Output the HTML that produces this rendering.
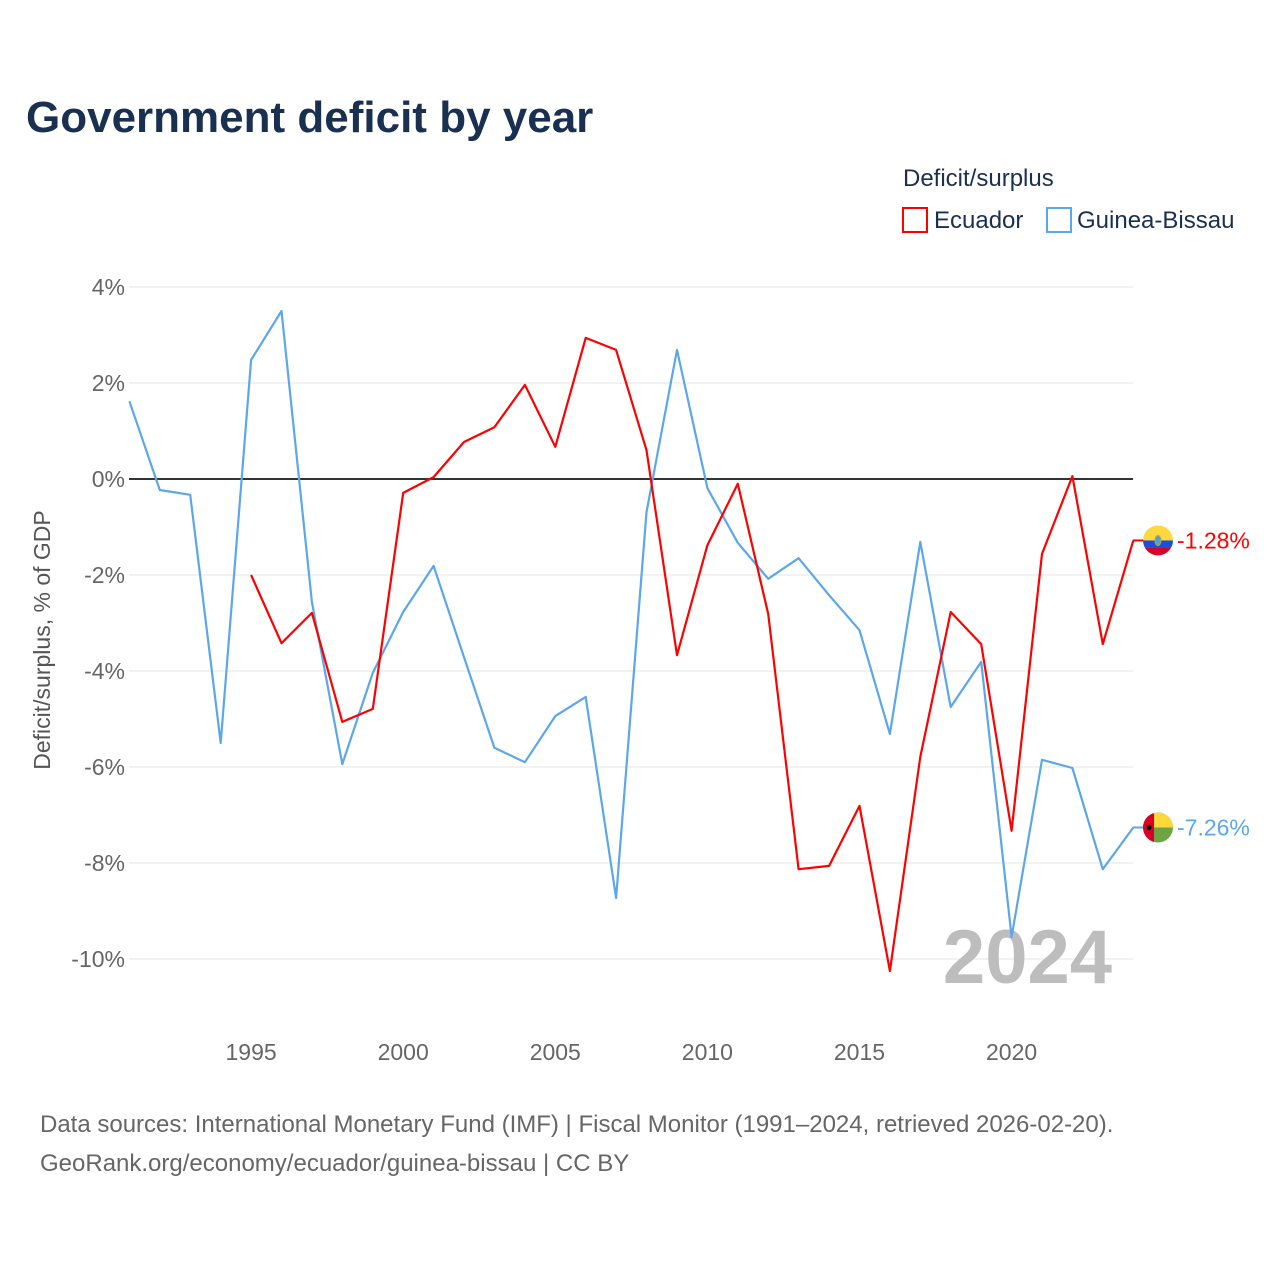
<!DOCTYPE html>
<html><head><meta charset="utf-8"><style>
body{margin:0;background:#fff;font-family:"Liberation Sans",sans-serif;}
svg text{font-family:"Liberation Sans",sans-serif;}
</style></head><body>
<svg id="chart" width="1280" height="1280" xmlns="http://www.w3.org/2000/svg">
<rect width="1280" height="1280" fill="#fff"/>
<text x="26" y="132" font-size="44" font-weight="bold" fill="#1a3050">Government deficit by year</text>
<text x="903" y="186" font-size="24" fill="#1a3050">Deficit/surplus</text>
<g><rect x="903" y="208" width="24" height="24" fill="none" stroke="#ff0000" stroke-width="2"/><text x="934" y="228" font-size="24" fill="#1a3050">Ecuador</text></g>
<g><rect x="1047" y="208" width="24" height="24" fill="none" stroke="#5ba7ea" stroke-width="2"/><text x="1077" y="228" font-size="24" fill="#1a3050">Guinea-Bissau</text></g>
<g id="grid"></g>
<text x="1112" y="983" font-size="76" font-weight="bold" fill="#bdbdbd" text-anchor="end">2024</text>
<g id="series"></g>
<text transform="translate(50,640) rotate(-90)" font-size="23" fill="#555" text-anchor="middle">Deficit/surplus, % of GDP</text>
<text x="40" y="1132" font-size="24" fill="#666">Data sources: International Monetary Fund (IMF) | Fiscal Monitor (1991–2024, retrieved 2026-02-20).</text>
<text x="40" y="1171" font-size="24" fill="#666">GeoRank.org/economy/ecuador/guinea-bissau | CC BY</text>
</svg>
<script>
const years=[];for(let y=1991;y<=2024;y++)years.push(y);
const guineaBissau=[1.62,-0.23,-0.33,-5.5,2.48,3.5,-2.56,-5.94,-4.04,-2.77,-1.81,-3.71,-5.6,-5.9,-4.94,-4.54,-8.73,-0.69,2.69,-0.19,-1.33,-2.08,-1.65,-2.42,-3.15,-5.31,-1.31,-4.75,-3.81,-9.54,-5.85,-6.02,-8.13,-7.26];
const ecuador=[null,null,null,null,-2.0,-3.42,-2.79,-5.06,-4.79,-0.29,0.04,0.77,1.08,1.96,0.67,2.94,2.69,0.6,-3.67,-1.38,-0.1,-2.81,-8.13,-8.06,-6.81,-10.25,-5.79,-2.77,-3.44,-7.33,-1.56,0.06,-3.44,-1.28];
const yTicks=[4,2,0,-2,-4,-6,-8,-10];
const xTicks=[1995,2000,2005,2010,2015,2020];
const NS="http://www.w3.org/2000/svg";
const X=y=>129.4+(y-1991)*30.42;
const Y=v=>479-v*48;
function mk(t,a,p){const e=document.createElementNS(NS,t);for(const k in a)e.setAttribute(k,a[k]);p.appendChild(e);return e;}
const grid=document.getElementById('grid');
yTicks.forEach(v=>{
 const l=mk('line',{x1:129,x2:1133,y1:Y(v),y2:Y(v),stroke:v===0?'#333':'#e6e6e6','stroke-width':v===0?2:1},grid);
 
 
 const t=mk('text',{x:125,y:Y(v)+8,'font-size':23,fill:'#666','text-anchor':'end'},grid);
 t.textContent=v+'%';
 
 
});
xTicks.forEach(v=>{
 const t=mk('text',{x:X(v),y:1060,'font-size':23,fill:'#666','text-anchor':'middle'},grid);
 t.textContent=v;
 
 
});
const s=document.getElementById('series');
function line(data,color,name){
 let d='';data.forEach((v,i)=>{if(v===null)return;d+=(d?'L':'M')+X(years[i]).toFixed(1)+','+Y(v).toFixed(1);});
 const p=mk('path',{d:d,fill:'none',stroke:color,'stroke-width':2.2,'stroke-linejoin':'round'},s);
 
 
}
line(guineaBissau,'#5ba7ea','line-guinea-bissau');
line(ecuador,'#ff0000','line-ecuador');
function endLabel(v,color,name,flag){
 const y=Y(v);
 mk('line',{x1:1133,x2:1145,y1:y,y2:y,stroke:color,'stroke-width':2},s);
 const g=mk('g',{},s);
 
 
 flag(g,1158,y);
 const t=mk('text',{x:1177,y:y+8,'font-size':23,fill:color},s);
 t.textContent=v.toFixed(2)+'%';
 
 
}
endLabel(ecuador[33],'#ff0000','ecuador',(g,cx,cy)=>{
 const id='ce';const cp=mk('clipPath',{id:id},g);mk('circle',{cx:cx,cy:cy,r:15},cp);
 const gg=mk('g',{'clip-path':'url(#'+id+')'},g);
 mk('rect',{x:cx-15,y:cy-15,width:30,height:15,fill:'#ffd83d'},gg);
 mk('rect',{x:cx-15,y:cy,width:30,height:7,fill:'#1d4ed8'},gg);
 mk('rect',{x:cx-15,y:cy+7,width:30,height:8,fill:'#d80027'},gg);
 mk('ellipse',{cx:cx,cy:cy,rx:3,ry:5,fill:'#4aa0e0',stroke:'#d4a017'},gg);
});
endLabel(guineaBissau[33],'#5ba7ea','guinea-bissau',(g,cx,cy)=>{
 const id='cg';const cp=mk('clipPath',{id:id},g);mk('circle',{cx:cx,cy:cy,r:15},cp);
 const gg=mk('g',{'clip-path':'url(#'+id+')'},g);
 mk('rect',{x:cx-15,y:cy-15,width:30,height:30,fill:'#6da544'},gg);
 mk('rect',{x:cx-4,y:cy-15,width:19,height:15,fill:'#ffd83d'},gg);
 mk('rect',{x:cx-15,y:cy-15,width:11,height:30,fill:'#d80027'},gg);
 mk('circle',{cx:cx-9,cy:cy,r:2.5,fill:'#000'},gg);
});
</script>
</body></html>
